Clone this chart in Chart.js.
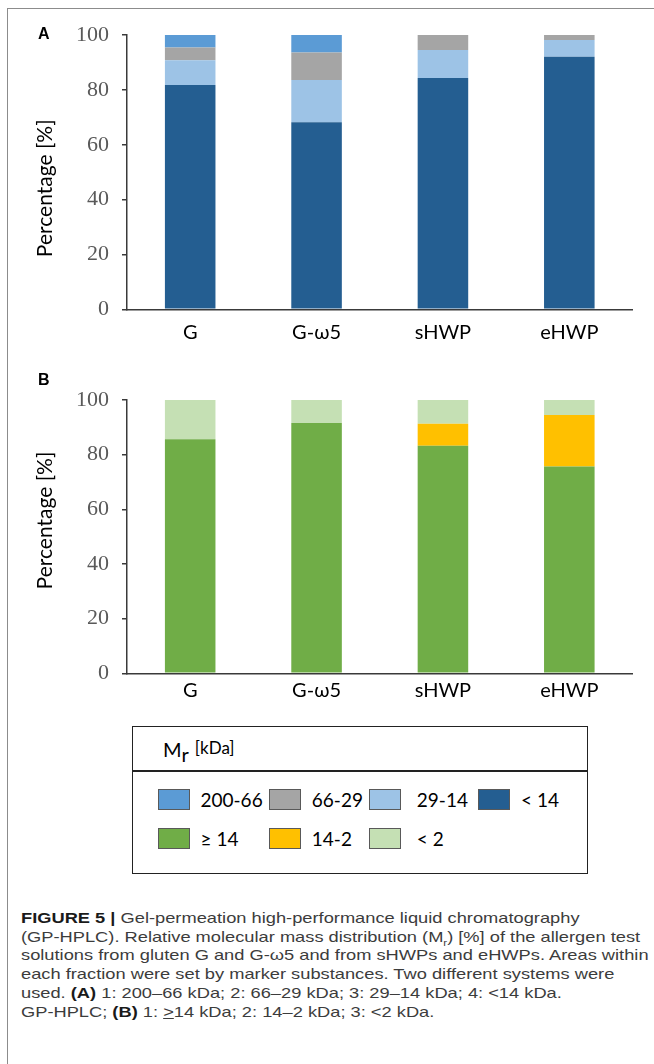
<!DOCTYPE html>
<html><head><meta charset="utf-8">
<script src="https://cdn.jsdelivr.net/npm/chart.js@4.4.0/dist/chart.umd.min.js"></script>
<style>
html,body{margin:0;padding:0;background:#fff;}
body{width:654px;height:1064px;position:relative;overflow:hidden;}
#frame{position:absolute;left:7px;top:8px;width:660px;height:1070px;border-left:1.5px solid #8c8c8c;border-top:1.5px solid #8c8c8c;}
canvas{position:absolute;left:0;}
#cA{top:0;}
#cB{top:350px;}
.plabel{position:absolute;left:38px;font:bold 16px/16px "Liberation Sans",Arial,sans-serif;color:#000;}
#legend{position:absolute;left:132px;top:726px;width:456px;height:148px;border:1.5px solid #222;box-sizing:border-box;font-family:Lato,"Open Sans",sans-serif;color:#000;}
#legend .div{position:absolute;left:0;right:0;top:43px;height:1.5px;background:#222;}
#legend .mr{position:absolute;left:30px;top:9px;font-size:20px;line-height:24px;white-space:nowrap;}
#legend .mr sub{font-size:20px;vertical-align:-5px;line-height:0;}
#legend .mr .kda{font-size:17px;vertical-align:3px;margin-left:6px;}
#legend .sw{position:absolute;width:32px;height:21px;box-sizing:border-box;border:1px solid #595959;}
#legend .lt{position:absolute;font-size:19px;line-height:21px;white-space:nowrap;}
#cap{position:absolute;left:21px;top:909px;font:14.5px/18.7px "Liberation Sans",Arial,sans-serif;color:#3c3c3c;transform:scaleX(1.26);transform-origin:0 0;white-space:nowrap;}
#cap b{color:#1a1a1a;}
#cap sub{font-size:9px;line-height:0;}
</style>
</head><body>
<div id="frame"></div>
<canvas id="cA" width="654" height="350"></canvas>
<canvas id="cB" width="654" height="360"></canvas>
<div class="plabel" style="top:26px">A</div>
<div class="plabel" style="top:372px">B</div>
<div id="legend">
  <div class="mr">M<sub>r</sub><span class="kda">[kDa]</span></div>
  <div class="div"></div>
</div>
<div id="cap">
<div><b>FIGURE 5 |</b> Gel-permeation high-performance liquid chromatography</div>
<div>(GP-HPLC). Relative molecular mass distribution (M<sub>r</sub>) [%] of the allergen test</div>
<div>solutions from gluten G and G-ω5 and from sHWPs and eHWPs. Areas within</div>
<div>each fraction were set by marker substances. Two different systems were</div>
<div>used. <b>(A)</b> 1: 200–66 kDa; 2: 66–29 kDa; 3: 29–14 kDa; 4: &lt;14 kDa.</div>
<div>GP-HPLC; <b>(B)</b> 1: <u>&gt;</u>14 kDa; 2: 14–2 kDa; 3: &lt;2 kDa.</div>
</div>
<script>
// ---- data ----
const categories = ['G', 'G-ω5', 'sHWP', 'eHWP'];
const yTicks = [0, 20, 40, 60, 80, 100];
// Panel A (bottom to top)
const a_lt14   = [81.8, 68.2, 84.3, 92.1];
const a_29_14  = [9.0, 15.4, 10.2, 6.1];
const a_66_29  = [4.6, 10.0, 5.5, 1.8];
const a_200_66 = [4.6, 6.4, 0, 0];
// Panel B (bottom to top)
const b_ge14 = [85.6, 91.6, 83.3, 75.7];
const b_14_2 = [0, 0, 8.0, 18.8];
const b_lt2  = [14.4, 8.4, 8.7, 5.5];
const seriesNames = ['200-66', '66-29', '29-14', '< 14', '≥ 14', '14-2', '< 2'];
const seriesColors = ['#5B9BD5', '#A5A5A5', '#9DC3E6', '#245E91', '#70AD47', '#FFC000', '#C5E0B4'];

const sansFont = 'Lato, "Open Sans", sans-serif';
const axisColor = '#3a3a3a';

function makeChart(id, datasets, o) {
  return new Chart(document.getElementById(id), {
    type: 'bar',
    data: { labels: categories, datasets: datasets },
    options: {
      responsive: false, animation: false, devicePixelRatio: 1,
      layout: { padding: { left: 0, right: 21.5, top: o.top, bottom: o.bottom } },
      plugins: { legend: { display: false }, tooltip: { enabled: false } },
      datasets: { bar: { barPercentage: 0.4, categoryPercentage: 1.0, borderWidth: 0 } },
      scales: {
        x: {
          stacked: true,
          grid: { display: false },
          border: { display: true, color: axisColor, width: 1.5 },
          ticks: { color: '#000', font: { family: sansFont, size: 20 }, padding: o.xpad, maxRotation: 0, autoSkip: false },
          afterFit: function (s) { s.height = o.xh; }
        },
        y: {
          stacked: true, min: 0, max: 100,
          afterBuildTicks: function (s) { s.ticks = yTicks.map(v => ({ value: v })); },
          grid: { drawOnChartArea: false, drawTicks: true, tickLength: 5, color: axisColor, lineWidth: 1.5 },
          border: { display: true, color: axisColor, width: 1.5 },
          ticks: { color: '#595959', font: { family: '"Liberation Serif", "Times New Roman", serif', size: 22 }, padding: 13 },
          title: { display: true, text: o.title, color: '#000', font: { family: sansFont, size: 21 }, padding: { top: 33, bottom: 0 } },
          afterFit: function (s) { s.width = 127; }
        }
      }
    }
  });
}

makeChart('cA', [
  { label: seriesNames[3], data: a_lt14, backgroundColor: seriesColors[3] },
  { label: seriesNames[2], data: a_29_14, backgroundColor: seriesColors[2] },
  { label: seriesNames[1], data: a_66_29, backgroundColor: seriesColors[1] },
  { label: seriesNames[0], data: a_200_66, backgroundColor: seriesColors[0] }
], { top: 35, bottom: 0.7, xh: 40, xpad: 3, title: 'Percentage [%]      ' });

makeChart('cB', [
  { label: seriesNames[4], data: b_ge14, backgroundColor: seriesColors[4] },
  { label: seriesNames[5], data: b_14_2, backgroundColor: seriesColors[5] },
  { label: seriesNames[6], data: b_lt2, backgroundColor: seriesColors[6] }
], { top: 50, bottom: 0.7, xh: 36, xpad: -3, title: '      Percentage [%]' });

// ---- HTML legend built from series names/colors ----
const legend = document.getElementById('legend');
const colLeft = [24.5, 135.8, 235.8, 345.1];
const rowTop = [61.8, 100.8];
seriesNames.forEach(function (name, i) {
  const r = i < 4 ? 0 : 1, c = i < 4 ? i : i - 4;
  const sw = document.createElement('div');
  sw.className = 'sw';
  sw.style.left = colLeft[c] + 'px';
  sw.style.top = rowTop[r] + 'px';
  sw.style.background = seriesColors[i];
  legend.appendChild(sw);
  const t = document.createElement('div');
  t.className = 'lt';
  t.textContent = name;
  t.style.left = (colLeft[c] + (c === 2 ? 48 : 43)) + 'px';
  t.style.top = rowTop[r] + 'px';
  legend.appendChild(t);
});
</script>
</body></html>
